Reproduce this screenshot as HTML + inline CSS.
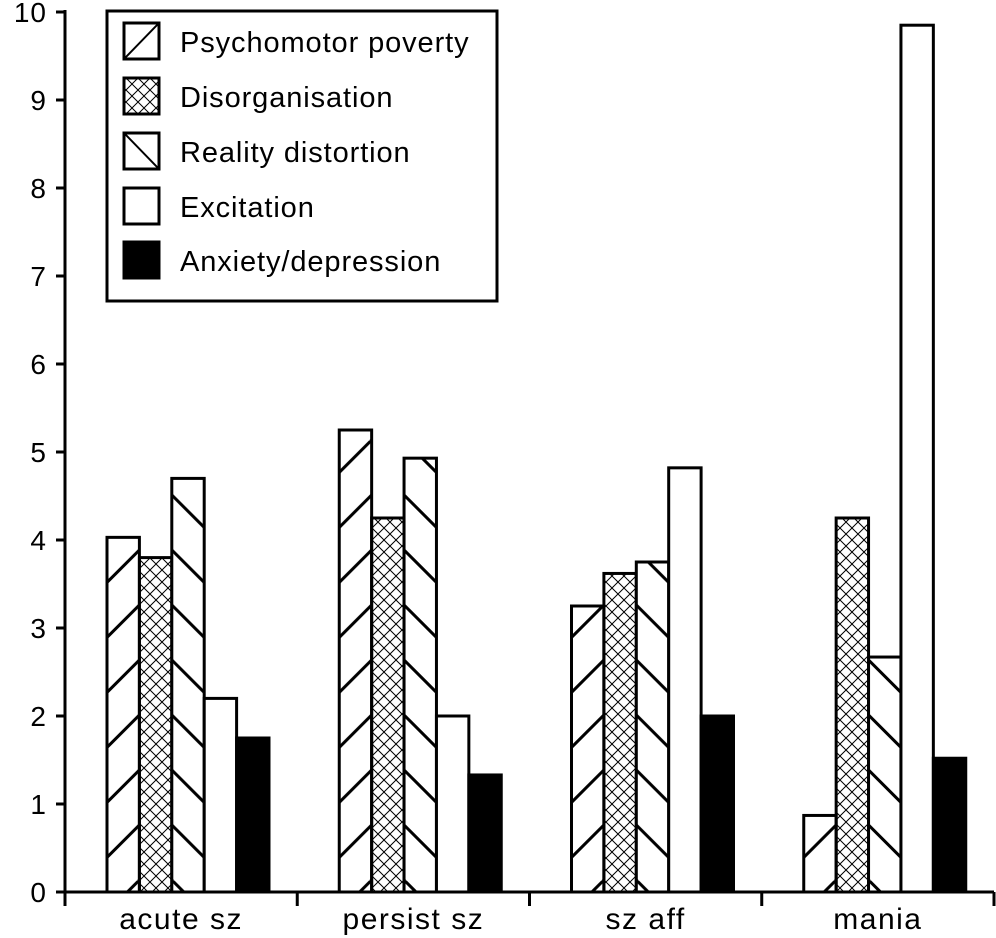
<!DOCTYPE html>
<html><head><meta charset="utf-8"><style>
body{margin:0;background:#fff}
svg{display:block;font-family:"Liberation Sans",Arial,sans-serif}
</style></head><body>
<svg id="chart" width="996" height="938" viewBox="0 0 996 938" xmlns="http://www.w3.org/2000/svg">
<defs>
<pattern id="cross" patternUnits="userSpaceOnUse" width="12" height="12">
<path d="M0 0L12 12M12 0L0 12" stroke="#000" stroke-width="1" fill="none"/>
</pattern>
</defs>
<g id="bars"></g>
<g id="axes"></g>
<g id="legend">
<rect x="107" y="11" width="390" height="290" fill="#fff" stroke="#000" stroke-width="3"/>
</g>
</svg>
<script>
const categories = ["acute sz","persist sz","sz aff","mania"];
const seriesNames = ["Psychomotor poverty","Disorganisation","Reality distortion","Excitation","Anxiety/depression"];
const psychomotor = [4.03,5.25,3.25,0.87];
const disorganisation = [3.8,4.25,3.62,4.25];
const reality = [4.7,4.93,3.75,2.67];
const excitation = [2.2,2.0,4.82,9.85];
const anxiety = [1.75,1.33,2.0,1.52];
const yTicks = [0,1,2,3,4,5,6,7,8,9,10];

const NS="http://www.w3.org/2000/svg";
const svg=document.getElementById('chart');
const defs=svg.querySelector('defs');
const x0=65,x1=994,y0=892,yTop=12;
const yScale=v=>y0-(y0-yTop)*v/10;
const groupW=(x1-x0)/categories.length;
const barW=32.4;
function mk(tag,attrs,parent){const e=document.createElementNS(NS,tag);for(const k in attrs)e.setAttribute(k,attrs[k]);parent.appendChild(e);return e;}
const series=[psychomotor,disorganisation,reality,excitation,anxiety];
const sNames=['psychomotor-poverty','disorganisation','reality-distortion','excitation','anxiety-depression'];
let pid=0;
function fillFor(s,x,w){
  if(s===1)return 'url(#cross)';
  if(s===3)return '#fff';
  if(s===4)return '#000';
  const id='h'+(pid++);
  const p=mk('pattern',{id:id,patternUnits:'userSpaceOnUse',x:x,y:0,width:w,height:55},defs);
  mk('rect',{x:0,y:0,width:w,height:55,fill:'#fff'},p);
  const d=s===0?`M0 ${w} L${w} 0 M0 ${w+55} L${w} 55 M0 ${w-55} L${w} -55`:`M0 0 L${w} ${w} M0 55 L${w} ${55+w} M0 -55 L${w} ${w-55}`;
  mk('path',{d:d,stroke:'#000','stroke-width':3,fill:'none'},p);
  return 'url(#'+id+')';
}
const bars=document.getElementById('bars');
categories.forEach((c,i)=>{
  const gx=x0+groupW*i+42;
  series.forEach((arr,s)=>{
    const x=gx+s*barW, y=yScale(arr[i]);
    const r=mk('rect',{x:x,y:y,width:barW,height:y0-y,fill:fillFor(s,x,barW),stroke:'#000','stroke-width':3},bars);
    
    
  });
});
const axes=document.getElementById('axes');
const ya=mk('line',{x1:x0,y1:y0,x2:x0,y2:yTop-2,stroke:'#000','stroke-width':3},axes);


const xa=mk('line',{x1:x0,y1:y0,x2:x1,y2:y0,stroke:'#000','stroke-width':3},axes);


yTicks.forEach(t=>{
  const y=yScale(t);
  mk('line',{x1:x0-9,y1:y,x2:x0,y2:y,stroke:'#000','stroke-width':3},axes);
  const tx=mk('text',{x:x0-18,y:y+10,'font-size':28,'text-anchor':'end','letter-spacing':1},axes);
  tx.textContent=t;
  
  
});
for(let i=0;i<=categories.length;i++){
  const x=x0+groupW*i;
  mk('line',{x1:x,y1:y0,x2:x,y2:y0+14,stroke:'#000','stroke-width':3},axes);
}
categories.forEach((c,i)=>{
  const tx=mk('text',{x:x0+groupW*(i+0.5),y:929,'font-size':30,'text-anchor':'middle','letter-spacing':1.5},axes);
  tx.textContent=c;
  
  
});
const legend=document.getElementById('legend');
const swY=[23,78,133,188,242];
seriesNames.forEach((n,s)=>{
  const y=swY[s];
  const g=mk('g',{},legend);
  
  
  let f;
  if(s===0||s===2){
    const id='lg'+s;
    const p=mk('pattern',{id:id,patternUnits:'userSpaceOnUse',x:124,y:y,width:35,height:36},defs);
    mk('rect',{x:0,y:0,width:35,height:36,fill:'#fff'},p);
    mk('path',{d:s===0?'M0 36L35 0':'M0 0L35 36',stroke:'#000','stroke-width':2},p);
    f='url(#'+id+')';
  } else f=s===1?'url(#cross)':(s===3?'#fff':'#000');
  mk('rect',{x:124,y:y,width:35,height:36,fill:f,stroke:'#000','stroke-width':3},g);
  const t=mk('text',{x:180,y:y+29,'font-size':29,'letter-spacing':0.9},g);
  t.textContent=n;
});
</script>
</body></html>
